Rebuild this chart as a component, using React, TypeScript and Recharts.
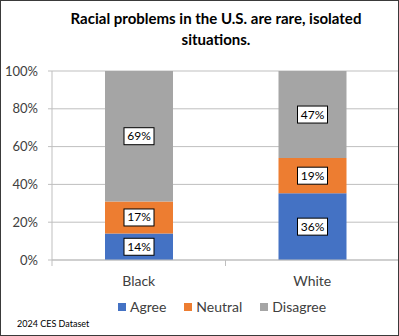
import React from "react";
import { BarChart, Bar, XAxis, YAxis, CartesianGrid, LabelList } from "recharts";

const categories = ["Black", "White"];
const agree = [14, 36];
const neutral = [17, 19];
const disagree = [69, 47];
const yTicks = [0, 0.2, 0.4, 0.6, 0.8, 1];
const seriesNames = ["Agree", "Neutral", "Disagree"];
const colors = ["#4472C4", "#ED7D31", "#A5A5A5"];
const title = ["Racial problems in the U.S. are rare, isolated", "situations."];
const source = "2024 CES Dataset";

const data = categories.map((c, i) => ({
  name: c,
  agree: agree[i],
  neutral: neutral[i],
  disagree: disagree[i],
}));

const FONT = "Lato, 'Open Sans', sans-serif";

const makeLabel = (arr: number[]) => (props: any) => {
  const { x, y, width, height, index } = props;
  const cx = Number(x) + Number(width) / 2;
  const cy = Number(y) + Number(height) / 2;
  const w = 30;
  const h = 17;
  return (
    <g>
      <rect x={cx - w / 2} y={cy - h / 2} width={w} height={h} fill="#fff" stroke="#000" strokeWidth={1} />
      <text x={cx} y={cy + 4} textAnchor="middle" fontSize={12} fill="#000" fontFamily={FONT}>
        {arr[index]}%
      </text>
    </g>
  );
};

const XTick = (props: any) => {
  const { x, payload } = props;
  const half = 173.5 / 2;
  return (
    <g>
      <line x1={x - half} x2={x - half} y1={260} y2={266} stroke="#BFBFBF" />
      <text x={x} y={286} textAnchor="middle" fontSize={14} fill="#404040" fontFamily={FONT}>
        {payload.value}
      </text>
    </g>
  );
};

export default function App() {
  return (
    <div
      style={{
        position: "absolute",
        left: 0,
        top: 0,
        width: 399,
        height: 336,
        background: "#fff",
        overflow: "hidden",
      }}
    >
      <div
        style={{
          position: "absolute",
          left: 0,
          top: 0,
          width: 399,
          height: 336,
          boxSizing: "border-box",
          border: "1px solid #3a3a3a",
          pointerEvents: "none",
          zIndex: 2,
        }}
      />
      <div
        style={{
          position: "absolute",
          left: 16,
          top: 8,
          width: 400,
          textAlign: "center",
          fontFamily: FONT,
          fontWeight: 700,
          fontSize: 15,
          lineHeight: "21px",
          color: "#000",
        }}
      >
        {title[0]}
        <br />
        {title[1]}
      </div>
      <BarChart
        width={399}
        height={336}
        data={data}
        stackOffset="expand"
        margin={{ top: 71, right: 0, bottom: 0, left: 0 }}
        style={{ position: "absolute", left: 0, top: 0 }}
      >
        <CartesianGrid vertical={false} stroke="#BFBFBF" />
        <XAxis
          dataKey="name"
          tickLine={false}
          axisLine={{ stroke: "#BFBFBF" }}
          tick={<XTick />}
          height={76}
          interval={0}
        />
        <YAxis
          domain={[0, 1]}
          ticks={yTicks}
          tickFormatter={(v: number) => `${Math.round(v * 100)}%`}
          width={52}
          axisLine={{ stroke: "#BFBFBF" }}
          tickLine={{ stroke: "#BFBFBF" }}
          tickSize={4}
          tick={{ fontSize: 13, fill: "#404040", fontFamily: FONT }}
          tickMargin={10}
        />
        <Bar dataKey="agree" stackId="a" fill={colors[0]} barSize={68} isAnimationActive={false}>
          <LabelList dataKey="agree" content={makeLabel(agree)} />
        </Bar>
        <Bar dataKey="neutral" stackId="a" fill={colors[1]} barSize={68} isAnimationActive={false}>
          <LabelList dataKey="neutral" content={makeLabel(neutral)} />
        </Bar>
        <Bar dataKey="disagree" stackId="a" fill={colors[2]} barSize={68} isAnimationActive={false}>
          <LabelList dataKey="disagree" content={makeLabel(disagree)} />
        </Bar>
      </BarChart>
      <div
        style={{
          position: "absolute",
          left: 118,
          top: 298,
          display: "flex",
          alignItems: "center",
          fontFamily: FONT,
          fontSize: 14,
          color: "#404040",
        }}
      >
        {seriesNames.map((n, i) => (
          <div key={n} style={{ display: "flex", alignItems: "center", marginRight: 18 }}>
            <span style={{ display: "inline-block", width: 8, height: 8, background: colors[i], marginRight: 4 }} />
            <span>{n}</span>
          </div>
        ))}
      </div>
      <div
        style={{
          position: "absolute",
          left: 17,
          top: 318,
          fontFamily: FONT,
          fontSize: 9,
          color: "#000",
        }}
      >
        {source}
      </div>
    </div>
  );
}
